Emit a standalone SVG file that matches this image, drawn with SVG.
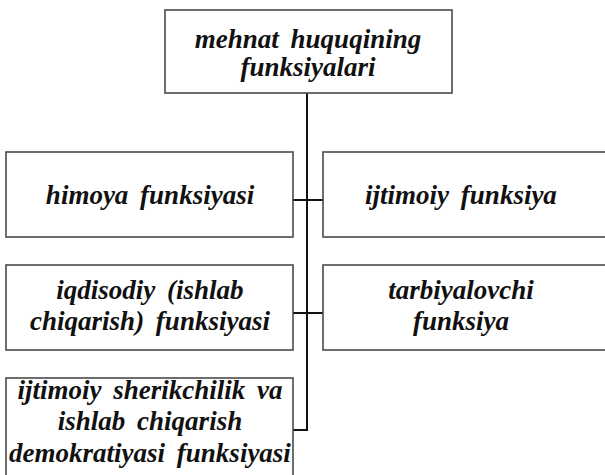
<svg xmlns="http://www.w3.org/2000/svg" width="605" height="475" viewBox="0 0 605 475">
<style>
.box{fill:#fff;stroke:#4a4a4a;stroke-width:1.6}
.t{font-family:"Liberation Serif","Times New Roman",serif;font-weight:bold;font-style:italic;font-size:27px;fill:#111;text-anchor:middle;word-spacing:5px}
.c{fill:none;stroke:#111;stroke-width:2}
</style>
<rect width="605" height="475" fill="#fff"/>
<g id="connectors">
<path class="c" d="M307,93 V430 H293"/>
<path class="c" d="M293,200 H323"/>
<path class="c" d="M293,313 H323"/>
</g>
<g id="root">
<rect class="box" x="165" y="10" width="287" height="83"/>
<text class="t" x="308" y="48">mehnat huquqining</text>
<text class="t" x="308" y="76">funksiyalari</text>
</g>
<g id="himoya">
<rect class="box" x="6" y="152" width="287" height="85"/>
<text class="t" x="150" y="204">himoya funksiyasi</text>
</g>
<g id="ijtimoiy">
<rect class="box" x="323" y="152" width="290" height="85"/>
<text class="t" x="461" y="204">ijtimoiy funksiya</text>
</g>
<g id="iqdisodiy">
<rect class="box" x="6" y="265" width="287" height="85"/>
<text class="t" x="150" y="299">iqdisodiy (ishlab</text>
<text class="t" x="150" y="330">chiqarish) funksiyasi</text>
</g>
<g id="tarbiyalovchi">
<rect class="box" x="323" y="265" width="290" height="85"/>
<text class="t" x="461" y="299">tarbiyalovchi</text>
<text class="t" x="461" y="330">funksiya</text>
</g>
<g id="sherikchilik">
<rect class="box" x="6" y="378" width="287" height="110"/>
<text class="t" x="150" y="399">ijtimoiy sherikchilik va</text>
<text class="t" x="150" y="430">ishlab chiqarish</text>
<text class="t" x="150" y="462">demokratiyasi funksiyasi</text>
</g>
</svg>
